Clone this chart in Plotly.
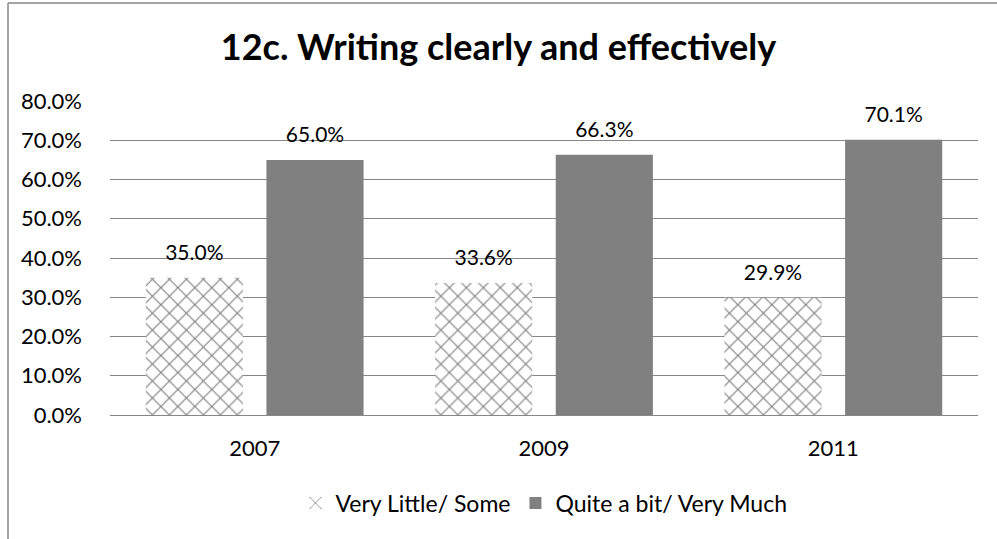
import plotly.graph_objects as go

years = ["2007", "2009", "2011"]
very_little = [0.350, 0.336, 0.299]
quite_a_bit = [0.650, 0.663, 0.701]
y_ticks = [0.0, 0.1, 0.2, 0.3, 0.4, 0.5, 0.6, 0.7, 0.8]

FONT = "Lato, Carlito, 'Liberation Sans', sans-serif"
TPL = "<span style='font-size:21px'>%{text}</span><br> "

fig = go.Figure()
fig.add_trace(go.Bar(
    name="Very Little/ Some", x=years, y=very_little,
    marker=dict(color="white", line=dict(width=0),
                pattern=dict(shape="x", fgcolor="black", bgcolor="white", size=12, solidity=0.18)),
    text=[f"{v*100:.1f}%" for v in very_little], textposition="outside",
    texttemplate=TPL,
    textfont=dict(size=10, color="#000"), cliponaxis=False,
))
fig.add_trace(go.Bar(
    name="Quite a bit/ Very Much", x=years, y=quite_a_bit,
    marker=dict(color="#808080", line=dict(width=0)),
    text=[f"{v*100:.1f}%" for v in quite_a_bit], textposition="outside",
    texttemplate=TPL,
    textfont=dict(size=10, color="#000"), cliponaxis=False,
))

W, H = 997, 539
L, R, T, B = 110, 19, 101, 124
pw = W - L - R
ph = H - T - B

def px(xp):
    return (xp - L) / pw

def py(yp):
    return (H - B - yp) / ph

fig.update_layout(
    width=W, height=H,
    margin=dict(l=L, r=R, t=T, b=B, autoexpand=False),
    paper_bgcolor="white", plot_bgcolor="white",
    font=dict(family=FONT, size=21, color="#000"),
    title=dict(text="<b>12c. Writing clearly and effectively</b>", x=0.5, xref="container",
               xanchor="center", y=1 - 47 / H, yanchor="middle", font=dict(size=36, family=FONT)),
    barmode="group", bargap=0.166, bargroupgap=0.195,
    uniformtext=dict(minsize=8, mode=False),
    showlegend=True,
    legend=dict(orientation="h", x=0.5, xanchor="center", yref="container", y=1 - 503 / H,
                yanchor="middle", font=dict(size=23), itemwidth=30, traceorder="normal"),
    xaxis=dict(showgrid=False, showline=True, linecolor="#868686", linewidth=1,
               ticks="", tickfont=dict(size=22), ticklabelstandoff=14, automargin=False),
    yaxis=dict(range=[0, 0.8], tickvals=y_ticks, tickformat=".1%", showgrid=True,
               gridcolor="#868686", gridwidth=1, zeroline=False, showline=False,
               tickfont=dict(size=22), ticklabelstandoff=27, automargin=False),
    shapes=[
        dict(type="line", xref="paper", yref="paper", x0=px(8), x1=px(997), y0=py(3), y1=py(3),
             line=dict(color="#868686", width=1.5)),
        dict(type="line", xref="paper", yref="paper", x0=px(8), x1=px(8), y0=py(3), y1=py(539),
             line=dict(color="#868686", width=1.5)),
    ],
)

fig.write_html("out.html", config={"displayModeBar": False},
               post_script="document.body.style.margin='0';")
